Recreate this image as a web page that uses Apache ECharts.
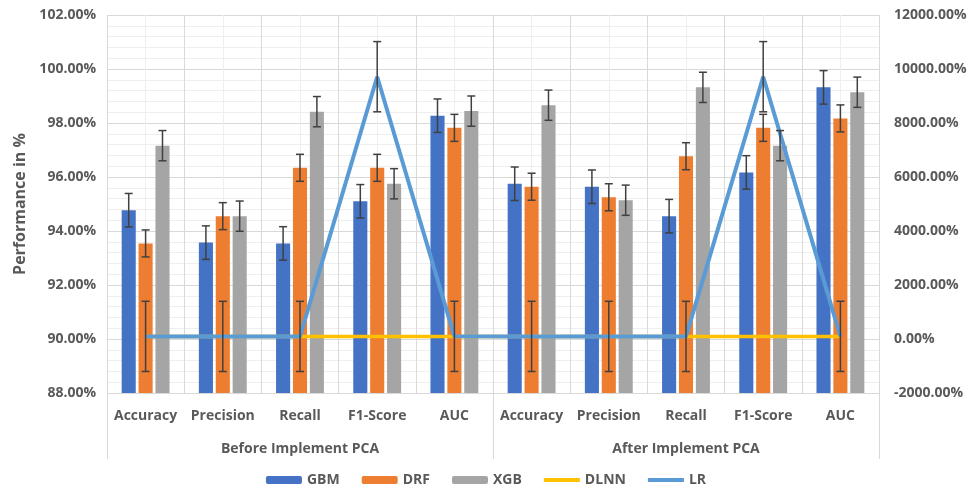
<!DOCTYPE html>
<html>
<head>
<meta charset="utf-8">
<script src="https://cdn.jsdelivr.net/npm/echarts@6/dist/echarts.min.js"></script>
<style>html,body{margin:0;padding:0;background:#fff}#c{width:972px;height:492px}</style>
</head>
<body>
<div id="c"></div>
<script>
const categories = ['Accuracy','Precision','Recall','F1-Score','AUC','Accuracy','Precision','Recall','F1-Score','AUC'];
const groups = ['Before Implement PCA','After Implement PCA'];
const gbm = [94.77,93.57,93.54,95.10,98.27, 95.75,95.64,94.55,96.17,99.32];
const drf = [93.54,94.55,96.34,96.34,97.82, 95.64,95.25,96.77,97.82,98.17];
const xgb = [97.16,94.55,98.42,95.75,98.44, 98.66,95.14,99.32,97.16,99.14];
const dlnn = [95,96,95,96,96, 96,95,96,96,97];
const lr = [97,96,96,9715,98, 97,96,96,9715,98];
const gbmErr = 0.62, drfErr = 0.50, xgbErr = 0.56, lrErr = 1300;
const leftAxis = {min:88, max:102, interval:2};
const rightAxis = {min:-2000, max:12000, interval:2000};

const FONT = 'Open Sans';
const TXT = '#595959';
const chart = echarts.init(document.getElementById('c'));

function errGroup(x, t, b){
  const cw = 4;
  const st = {stroke:'#404040', lineWidth:1.5};
  return {type:'group', children:[
    {type:'line', shape:{x1:x,y1:t,x2:x,y2:b}, style:st},
    {type:'line', shape:{x1:x-cw,y1:t,x2:x+cw,y2:t}, style:st},
    {type:'line', shape:{x1:x-cw,y1:b,x2:x+cw,y2:b}, style:st}
  ]};
}

function barErrSeries(values, err, k, name){
  return {
    type:'custom', name: name+' err', xAxisIndex:0, yAxisIndex:0, z:5, silent:true,
    data: values.map((v,i)=>[i,v,err]),
    encode:{x:0,y:1},
    renderItem(params, api){
      const i = api.value(0), v = api.value(1), e = api.value(2);
      const band = api.size([1,0])[0];
      const w = band*0.62/3.4;
      const off = k*w*1.2;
      const t = api.coord([i, v+e]), b = api.coord([i, v-e]);
      return errGroup(t[0]+off, t[1], b[1]);
    }
  };
}

const lineIcon = 'path://M0,0 L36,0 L36,4 L0,4 Z';

const option = {
  animation:false,
  textStyle:{fontFamily:FONT},
  grid:{left:107, right:93, top:15, bottom:99},
  legend:{
    bottom:0, left:'center', itemWidth:36, itemHeight:8, itemGap:22,
    data:['GBM','DRF','XGB',{name:'DLNN', icon:lineIcon},{name:'LR', icon:lineIcon}],
    textStyle:{fontFamily:FONT, fontSize:14, fontWeight:'bold', color:TXT}
  },
  xAxis:[
    {type:'category', data:categories, position:'bottom',
     axisLine:{show:true, lineStyle:{color:'#d9d9d9'}}, axisTick:{show:false},
     splitLine:{show:false},
     axisLabel:{fontFamily:FONT, fontSize:14, fontWeight:'bold', color:TXT, margin:16, interval:0}},
    {type:'category', data:groups, position:'bottom',
     axisLine:{show:false}, axisTick:{show:true, length:66, lineStyle:{color:'#d9d9d9'}},
     splitLine:{show:false},
     axisLabel:{fontFamily:FONT, fontSize:14, fontWeight:'bold', color:TXT, margin:49}},
    {type:'value', min:0, max:10, interval:1, position:'top',
     axisLine:{show:false}, axisTick:{show:false}, axisLabel:{show:false},
     splitLine:{show:true, lineStyle:{color:'#d9d9d9', width:1}},
     minorTick:{show:false, splitNumber:2},
     minorSplitLine:{show:true, lineStyle:{color:'#efefef', width:1}}}
  ],
  yAxis:[
    {type:'value', min:leftAxis.min, max:leftAxis.max, interval:leftAxis.interval,
     name:'Performance in %', nameLocation:'middle', nameGap:78,
     nameTextStyle:{fontFamily:FONT, fontSize:16, fontWeight:'bold', color:TXT},
     axisLine:{show:false}, axisTick:{show:false},
     axisLabel:{fontFamily:FONT, fontSize:14, fontWeight:'bold', color:TXT, margin:11,
       formatter:v=>v.toFixed(2)+'%'},
     splitLine:{lineStyle:{color:'#d9d9d9'}},
     minorTick:{show:false, splitNumber:5},
     minorSplitLine:{show:true, lineStyle:{color:'#efefef'}}},
    {type:'value', min:rightAxis.min, max:rightAxis.max, interval:rightAxis.interval, position:'right',
     axisLine:{show:false}, axisTick:{show:false}, splitLine:{show:false},
     axisLabel:{fontFamily:FONT, fontSize:14, fontWeight:'bold', color:TXT, margin:15,
       formatter:v=>v.toFixed(2)+'%'}}
  ],
  series:[
    {name:'GBM', type:'bar', data:gbm, itemStyle:{color:'#4472C4'}, barCategoryGap:'38%', barGap:'20%', z:2},
    {name:'DRF', type:'bar', data:drf, itemStyle:{color:'#ED7D31'}, barCategoryGap:'38%', barGap:'20%', z:2},
    {name:'XGB', type:'bar', data:xgb, itemStyle:{color:'#A5A5A5'}, barCategoryGap:'38%', barGap:'20%', z:2},
    {name:'DLNN', type:'line', yAxisIndex:1, data:dlnn, symbol:'none', lineStyle:{color:'#FFC000', width:3.5}, itemStyle:{color:'#FFC000'}, z:3},
    {name:'LR', type:'line', yAxisIndex:1, data:lr, symbol:'none', lineStyle:{color:'#5B9BD5', width:4}, itemStyle:{color:'#5B9BD5'}, z:4},
    barErrSeries(gbm, gbmErr, -1, 'GBM'),
    barErrSeries(drf, drfErr, 0, 'DRF'),
    barErrSeries(xgb, xgbErr, 1, 'XGB'),
    {
      type:'custom', name:'LR err', xAxisIndex:0, yAxisIndex:1, z:6, silent:true,
      data: lr.map((v,i)=>[i,v,lrErr]),
      encode:{x:0,y:1},
      renderItem(params, api){
        const i = api.value(0), v = api.value(1), e = api.value(2);
        const t = api.coord([i, v+e]), b = api.coord([i, v-e]);
        return errGroup(t[0], t[1], b[1]);
      }
    }
  ]
};
chart.setOption(option);
</script>
</body>
</html>
